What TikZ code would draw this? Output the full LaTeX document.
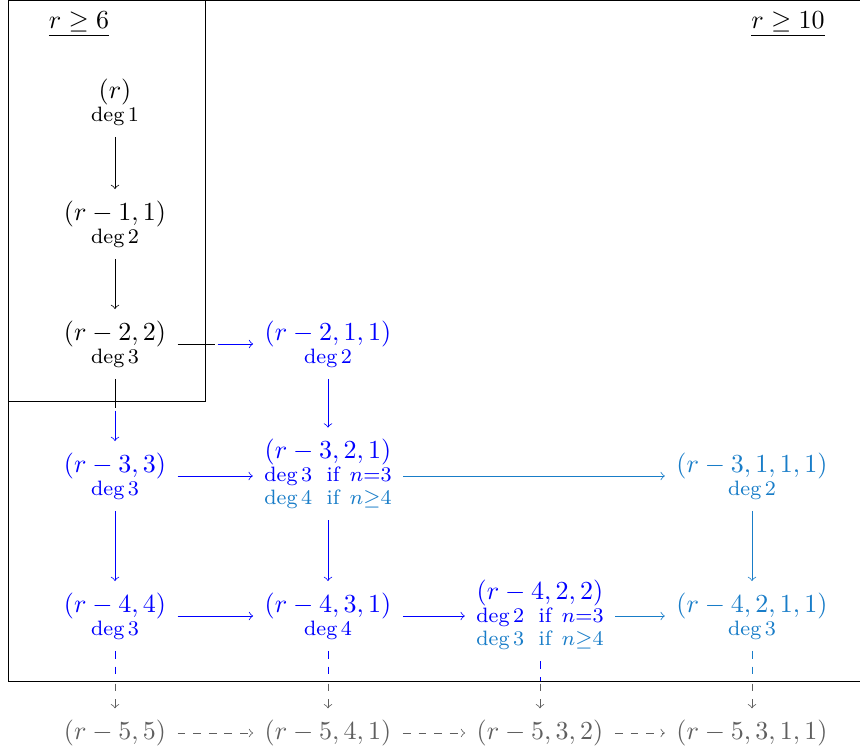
\documentclass[tikz,border=0pt]{standalone}
\usepackage{xcolor}
\definecolor{lblue}{RGB}{25,125,200}
\definecolor{dgray}{RGB}{95,95,95}
\begin{document}
\begin{tikzpicture}[x=0.3846pt,y=-0.3846pt,line width=0.3pt,
  lab/.style={align=center,inner sep=3.33pt},
  conn/.style={->,shorten >=1pt,shorten <=1pt},
  plain/.style={shorten <=1pt},
  dd/.style={dashed},
]
\newcommand{\dg}[1]{{\footnotesize deg\,#1}}
\newcommand{\dgif}[3]{{\footnotesize deg\,#1\hspace{0.7em}if\hspace{0.5em}$n{#2}#3$}}
\useasboundingbox (0,0) rectangle (860,754);
% boxes
\draw (8,0.6) -- (860,0.6);
\draw (8,0.6) -- (8,681) -- (860,681);
\draw (8,0.6) rectangle (205,401);
% titles
\node[lab] (t6) at (79,24) {$\underline{r \geq 6}$};
\node[lab] (t10) at (788,24) {$\underline{r \geq 10}$};
% nodes
\node[lab] (a1) at (115,102) {$(r)$\\[-3.2pt]\dg{1}};
\node[lab] (a2) at (115,224) {$(r-1,1)$\\[-3.2pt]\dg{2}};
\node[lab] (a3) at (115,344) {$(r-2,2)$\\[-3.2pt]\dg{3}};
\node[lab,text=blue] (b3) at (328,344) {$(r-2,1,1)$\\[-3.2pt]\dg{2}};
\node[lab,text=blue] (a4) at (115,476) {$(r-3,3)$\\[-3.2pt]\dg{3}};
\node[lab,text=blue] (b4) at (328,474) {$(r-3,2,1)$\\[-3.2pt]\dgif{3}{=}{3}\\[-3.2pt]\textcolor{lblue}{\dgif{4}{\geq}{4}}};
\node[lab,text=lblue] (d4) at (752,476) {$(r-3,1,1,1)$\\[-3.2pt]\dg{2}};
\node[lab,text=blue] (a5) at (115,616) {$(r-4,4)$\\[-3.2pt]\dg{3}};
\node[lab,text=blue] (b5) at (328,616) {$(r-4,3,1)$\\[-3.2pt]\dg{4}};
\node[lab,text=blue] (c5) at (540,615) {$(r-4,2,2)$\\[-3.2pt]\dgif{2}{=}{3}\\[-3.2pt]\textcolor{lblue}{\dgif{3}{\geq}{4}}};
\node[lab,text=lblue] (d5) at (752,616) {$(r-4,2,1,1)$\\[-3.2pt]\dg{3}};
\node[lab,text=dgray] (a6) at (115,733) {$(r-5,5)$};
\node[lab,text=dgray] (b6) at (328,733) {$(r-5,4,1)$};
\node[lab,text=dgray] (c6) at (540,733) {$(r-5,3,2)$};
\node[lab,text=dgray] (d6) at (752,733) {$(r-5,3,1,1)$};
% coordinates
\coordinate (k1) at (215,344);
\coordinate (k2) at (115,408);
\coordinate (ea) at (115,681);
\coordinate (eb) at (328,681);
\coordinate (ec) at (540,681);
\coordinate (ed) at (752,681);
% black arrows
\draw[conn] (a1.south) -- (a2.north);
\draw[conn] (a2.south) -- (a3.north);
\draw[plain] (a3.east) -- (k1);
\draw[plain] (a3.south) -- (k2);
% blue
\draw[conn,blue] (k1) -- (b3.west);
\draw[conn,blue] (k2) -- (a4.north);
\draw[conn,blue] (b3.south) -- (b4.north);
\draw[conn,blue] (a4.east) -- (a4.east -| b4.west);
\draw[conn,lblue] (a4.east -| b4.east) -- (a4.east -| d4.west);
\draw[conn,blue] (a4.south) -- (a5.north);
\draw[conn,blue] (b4.south) -- (b5.north);
\draw[conn,lblue] (d4.south) -- (d5.north);
\draw[conn,blue] (a5.east) -- (b5.west);
\draw[conn,blue] (b5.east) -- (b5.east -| c5.west);
\draw[conn,lblue] (b5.east -| c5.east) -- (d5.west);
% dashed
\draw[plain,dd,blue] (a5.south) -- (ea);
\draw[plain,dd,blue] (b5.south) -- (eb);
\draw[plain,dd,blue] (c5.south) -- (ec);
\draw[plain,dd,lblue] (d5.south) -- (ed);
\draw[conn,dd,dgray] (ea) -- (a6.north);
\draw[conn,dd,dgray] (eb) -- (b6.north);
\draw[conn,dd,dgray] (ec) -- (c6.north);
\draw[conn,dd,dgray] (ed) -- (d6.north);
\draw[conn,dd,dgray] (a6.east) -- (b6.west);
\draw[conn,dd,dgray] (b6.east) -- (c6.west);
\draw[conn,dd,dgray] (c6.east) -- (d6.west);
\end{tikzpicture}
\end{document}
